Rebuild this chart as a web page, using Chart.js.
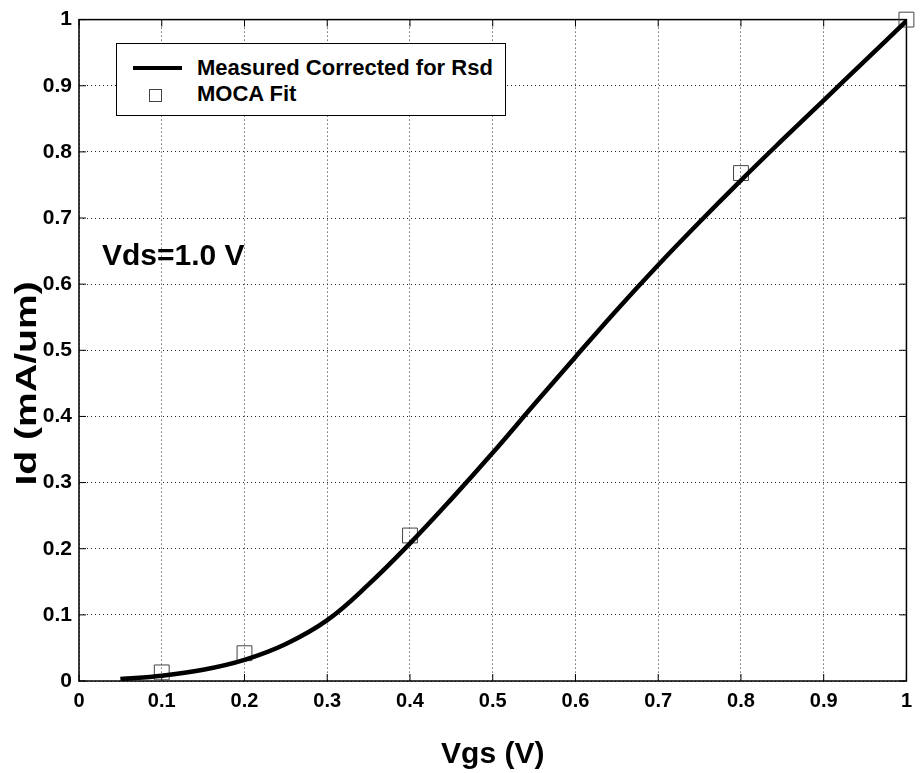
<!DOCTYPE html>
<html>
<head>
<meta charset="utf-8">
<script src="https://cdn.jsdelivr.net/npm/chart.js@4.4.1/dist/chart.umd.min.js"></script>
<style>
  body { margin: 0; background: #fff; }
  #wrap { position: relative; width: 920px; height: 773px; font-family: "Liberation Sans", Arial, sans-serif; }
  #leyenda {
    position: absolute; left: 116px; top: 43px; width: 390px; height: 73px;
    border: 1.5px solid #000; background: #fff; box-sizing: border-box;
  }
  .fila { position: absolute; left: 0; font-size: 22px; font-weight: bold; color: #000; }
  .simbolo-linea { position: absolute; left: 16px; width: 49px; height: 4px; background: #000; }
  .simbolo-cuadro { position: absolute; left: 32px; width: 13px; height: 13px; border: 1px solid #444; box-sizing: border-box; }
  #nota { position: absolute; left: 102px; top: 238px; font-size: 30px; font-weight: bold; color: #000; }
</style>
</head>
<body>
<div id="wrap">
  <canvas id="graficoId" width="920" height="773"></canvas>
  <div id="leyenda">
    <div class="simbolo-linea" style="top:22px"></div>
    <div class="fila" style="left:80px; top:11px">Measured Corrected for Rsd</div>
    <div class="simbolo-cuadro" style="top:45px"></div>
    <div class="fila" style="left:80px; top:37px">MOCA Fit</div>
  </div>
  <div id="nota">Vds=1.0 V</div>
</div>
<script>
// datos
const vgsMedido = [0.05, 0.1, 0.15, 0.2, 0.25, 0.3, 0.35, 0.4, 0.45, 0.5, 0.55, 0.6, 0.65, 0.7, 0.75, 0.8, 0.85, 0.9, 0.95, 1.0];
const idMedido = [0.003, 0.008, 0.017, 0.032, 0.056, 0.092, 0.146, 0.208, 0.275, 0.345, 0.418, 0.49, 0.561, 0.629, 0.694, 0.757, 0.818, 0.878, 0.938, 0.998];
const vgsMoca = [0.1, 0.2, 0.4, 0.8, 1.0];
const idMoca = [0.013, 0.042, 0.22, 0.768, 1.0];
const ticksX = ["0", "0.1", "0.2", "0.3", "0.4", "0.5", "0.6", "0.7", "0.8", "0.9", "1"];
const ticksY = ["0", "0.1", "0.2", "0.3", "0.4", "0.5", "0.6", "0.7", "0.8", "0.9", "1"];
const tituloY = "Id (mA/um)";

const fuente = "'Liberation Sans', Arial, sans-serif";

// marco de los ejes con marcas hacia adentro (estilo matlab)
const marcoEjes = {
    id: "marcoEjes",
    beforeDatasetsDraw(chart) {
        const { ctx, chartArea: a, scales } = chart;
        ctx.save();
        ctx.strokeStyle = "#000";
        ctx.lineWidth = 1.5;
        ctx.strokeRect(a.left, a.top, a.right - a.left, a.bottom - a.top);
        ctx.lineWidth = 1;
        const largo = 7;
        ctx.beginPath();
        scales.x.ticks.forEach((t, i) => {
            const px = scales.x.getPixelForTick(i);
            ctx.moveTo(px, a.bottom); ctx.lineTo(px, a.bottom - largo);
            ctx.moveTo(px, a.top); ctx.lineTo(px, a.top + largo);
        });
        scales.y.ticks.forEach((t, i) => {
            const py = scales.y.getPixelForTick(i);
            ctx.moveTo(a.left, py); ctx.lineTo(a.left + largo, py);
            ctx.moveTo(a.right, py); ctx.lineTo(a.right - largo, py);
        });
        ctx.stroke();
        ctx.restore();
    },
    // titulo del eje y, un poco estirado como en la figura escaneada
    afterDraw(chart) {
        const { ctx, scales } = chart;
        const yc = scales.y.getPixelForValue(0.45);
        ctx.save();
        ctx.translate(28, yc);
        ctx.rotate(-Math.PI / 2);
        ctx.scale(1.35, 1);
        ctx.font = "bold 29px " + fuente;
        ctx.fillStyle = "#000";
        ctx.textAlign = "center";
        ctx.textBaseline = "middle";
        ctx.fillText(tituloY, 0, 0);
        ctx.restore();
    }
};

document.addEventListener("DOMContentLoaded", function () {
    const ctx = document.getElementById("graficoId").getContext("2d");
    new Chart(ctx, {
        type: "scatter",
        data: {
            datasets: [
                {
                    label: "Measured Corrected for Rsd",
                    data: vgsMedido.map((v, i) => ({ x: v, y: idMedido[i] })),
                    showLine: true,
                    borderColor: "#000",
                    borderWidth: 4.5,
                    pointRadius: 0,
                    tension: 0.4
                },
                {
                    label: "MOCA Fit",
                    data: vgsMoca.map((v, i) => ({ x: v, y: idMoca[i] })),
                    showLine: false,
                    pointStyle: "rect",
                    pointRadius: 10.5,
                    pointBorderColor: "#444",
                    pointBorderWidth: 1,
                    pointBackgroundColor: "rgba(0,0,0,0)",
                    clip: false
                }
            ]
        },
        options: {
            responsive: false,
            animation: false,
            devicePixelRatio: 1,
            layout: { padding: { left: 0, top: 17, right: 7, bottom: 0 } },
            plugins: {
                legend: { display: false },
                tooltip: { enabled: false }
            },
            scales: {
                x: {
                    type: "linear",
                    min: 0, max: 1,
                    afterFit: s => { s.height = 92; },
                    ticks: {
                        stepSize: 0.1,
                        padding: 8,
                        color: "#000",
                        font: { family: fuente, size: 20, weight: "bold" },
                        callback: (v, i) => ticksX[i]
                    },
                    grid: { color: "#222", lineWidth: 1, drawTicks: false },
                    border: { display: false, dash: [1, 3] },
                    title: {
                        display: true,
                        text: "Vgs (V)",
                        color: "#000",
                        font: { family: fuente, size: 30, weight: "bold" },
                        padding: { top: 0, bottom: 0 }
                    }
                },
                y: {
                    type: "linear",
                    min: 0, max: 1,
                    afterFit: s => { s.width = 79; },
                    ticks: {
                        stepSize: 0.1,
                        padding: 7,
                        color: "#000",
                        font: { family: fuente, size: 21, weight: "bold" },
                        callback: (v, i) => ticksY[i]
                    },
                    grid: { color: "#222", lineWidth: 1, drawTicks: false },
                    border: { display: false, dash: [1, 3] }
                }
            }
        },
        plugins: [marcoEjes]
    });
});
</script>
</body>
</html>
